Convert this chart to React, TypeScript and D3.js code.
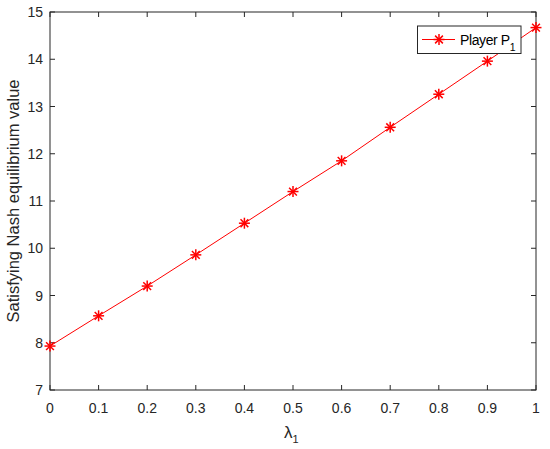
import React from "react";
import * as d3 from "d3";

const width = 550;
const height = 449;
const margin = { top: 12, right: 14, bottom: 59, left: 50 };

const lambdas = [0, 0.1, 0.2, 0.3, 0.4, 0.5, 0.6, 0.7, 0.8, 0.9, 1];
const player1 = [7.93, 8.57, 9.2, 9.86, 10.53, 11.2, 11.85, 12.56, 13.26, 13.96, 14.67];
const xTicks = [0, 0.1, 0.2, 0.3, 0.4, 0.5, 0.6, 0.7, 0.8, 0.9, 1];
const yTicks = [7, 8, 9, 10, 11, 12, 13, 14, 15];

const axisColor = "#262626";
const lineColor = "#ff0000";
const font = "'Liberation Sans', Arial, sans-serif";

const Star = ({ x, y, r = 5.5 }: { x: number; y: number; r?: number }) => {
  const d = r * 0.707;
  return (
    <g stroke={lineColor} strokeWidth={1.5}>
      <line x1={x - r} y1={y} x2={x + r} y2={y} />
      <line x1={x} y1={y - r} x2={x} y2={y + r} />
      <line x1={x - d} y1={y - d} x2={x + d} y2={y + d} />
      <line x1={x - d} y1={y + d} x2={x + d} y2={y - d} />
    </g>
  );
};

export default function App() {
  const x0 = margin.left;
  const x1 = width - margin.right;
  const y0 = height - margin.bottom;
  const y1 = margin.top;

  const xScale = d3.scaleLinear().domain([0, 1]).range([x0, x1]);
  const yScale = d3.scaleLinear().domain([7, 15]).range([y0, y1]);

  const line = d3
    .line<number>()
    .x((_, i) => xScale(lambdas[i]))
    .y((d) => yScale(d));

  const tick = 5;

  return (
    <svg
      width={width}
      height={height}
      style={{ position: "absolute", left: 0, top: 0, background: "#fff" }}
      fontFamily={font}
    >
      <rect x={0} y={0} width={width} height={height} fill="#fff" />

      {/* ticks, inside on all four sides */}
      {xTicks.map((t) => (
        <g key={"x" + t} stroke={axisColor} strokeWidth={1}>
          <line x1={xScale(t)} x2={xScale(t)} y1={y0} y2={y0 - tick} />
          <line x1={xScale(t)} x2={xScale(t)} y1={y1} y2={y1 + tick} />
        </g>
      ))}
      {yTicks.map((t) => (
        <g key={"y" + t} stroke={axisColor} strokeWidth={1}>
          <line x1={x0} x2={x0 + tick} y1={yScale(t)} y2={yScale(t)} />
          <line x1={x1} x2={x1 - tick} y1={yScale(t)} y2={yScale(t)} />
        </g>
      ))}
      <rect
        x={x0}
        y={y1}
        width={x1 - x0}
        height={y0 - y1}
        fill="none"
        stroke={axisColor}
        strokeWidth={1}
      />

      {xTicks.map((t) => (
        <text
          key={"xl" + t}
          x={xScale(t)}
          y={y0 + 22.5}
          fontSize={14}
          textAnchor="middle"
          fill={axisColor}
        >
          {d3.format("~g")(t)}
        </text>
      ))}
      {yTicks.map((t) => (
        <text
          key={"yl" + t}
          x={x0 - 7}
          y={yScale(t) + 5}
          fontSize={14}
          textAnchor="end"
          fill={axisColor}
        >
          {t}
        </text>
      ))}

      {/* axis labels */}
      <text x={284} y={438} fontSize={17} fill={axisColor}>
        λ
        <tspan fontSize={11} dy={5}>1</tspan>
      </text>
      <text
        transform={`translate(18.5, ${(y0 + y1) / 2}) rotate(-90)`}
        fontSize={16.5}
        fill={axisColor}
        textAnchor="middle"
      >
        Satisfying Nash equilibrium value
      </text>

      <path d={line(player1) ?? ""} fill="none" stroke={lineColor} strokeWidth={1} />
      {player1.map((v, i) => (
        <Star key={i} x={xScale(lambdas[i])} y={yScale(v)} />
      ))}

      {/* legend */}
      <g>
        <rect x={417.5} y={26} width={103.5} height={27.5} fill="#fff" stroke={axisColor} strokeWidth={1} />
        <line x1={422} x2={455} y1={39.5} y2={39.5} stroke={lineColor} strokeWidth={1} />
        <Star x={439} y={39.5} />
        <text x={460} y={45} fontSize={14} fill="#000" letterSpacing={-0.4}>
          Player P
          <tspan fontSize={10.5} dy={6}>1</tspan>
        </text>
      </g>
    </svg>
  );
}
